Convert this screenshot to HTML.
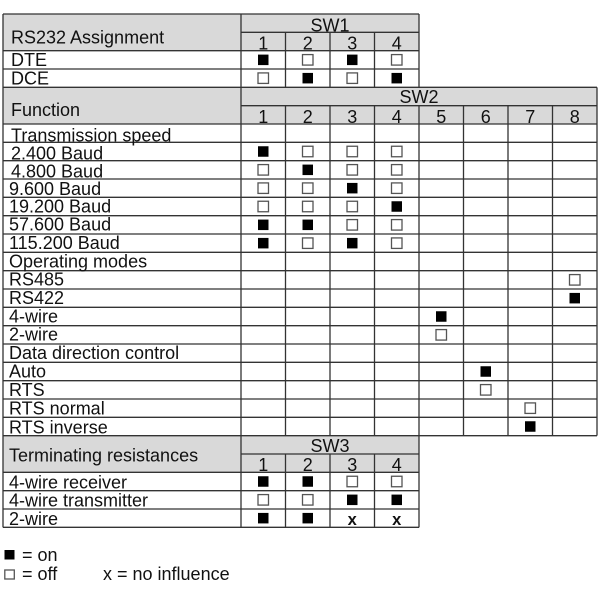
<!DOCTYPE html>
<html><head><meta charset="utf-8"><style>
html,body{margin:0;padding:0;background:#fff;}
svg{display:block;}
text{font-family:"Liberation Sans",Arial,sans-serif;font-size:18px;fill:#111;}
.c{text-anchor:middle;}
.ln{stroke:#333;stroke-width:1.3;fill:none;}
.f{fill:#000;}
.e{fill:#fff;stroke:#555;stroke-width:1.3;}
</style></head><body>
<svg width="600" height="600" viewBox="0 0 600 600" xmlns="http://www.w3.org/2000/svg">
<!-- header fills -->
<rect x="3" y="14" width="416" height="36.67" fill="#d9d9d9"/>
<rect x="3" y="87.33" width="594" height="36.67" fill="#d9d9d9"/>
<rect x="3" y="435.67" width="416" height="36.67" fill="#d9d9d9"/>

<!-- horizontal lines -->
<g class="ln">
<line x1="3" y1="14" x2="419" y2="14"/>
<line x1="241" y1="32.33" x2="419" y2="32.33"/>
<line x1="3" y1="50.67" x2="419" y2="50.67"/>
<line x1="3" y1="69" x2="419" y2="69"/>
<line x1="3" y1="87.33" x2="597" y2="87.33"/>
<line x1="241" y1="105.67" x2="597" y2="105.67"/>
<line x1="3" y1="124" x2="597" y2="124"/>
<line x1="3" y1="142.33" x2="597" y2="142.33"/>
<line x1="3" y1="160.67" x2="597" y2="160.67"/>
<line x1="3" y1="179" x2="597" y2="179"/>
<line x1="3" y1="197.33" x2="597" y2="197.33"/>
<line x1="3" y1="215.67" x2="597" y2="215.67"/>
<line x1="3" y1="234" x2="597" y2="234"/>
<line x1="3" y1="252.33" x2="597" y2="252.33"/>
<line x1="3" y1="270.67" x2="597" y2="270.67"/>
<line x1="3" y1="289" x2="597" y2="289"/>
<line x1="3" y1="307.33" x2="597" y2="307.33"/>
<line x1="3" y1="325.67" x2="597" y2="325.67"/>
<line x1="3" y1="344" x2="597" y2="344"/>
<line x1="3" y1="362.33" x2="597" y2="362.33"/>
<line x1="3" y1="380.67" x2="597" y2="380.67"/>
<line x1="3" y1="399" x2="597" y2="399"/>
<line x1="3" y1="417.33" x2="597" y2="417.33"/>
<line x1="3" y1="435.67" x2="597" y2="435.67"/>
<line x1="241" y1="454" x2="419" y2="454"/>
<line x1="3" y1="472.33" x2="419" y2="472.33"/>
<line x1="3" y1="490.67" x2="419" y2="490.67"/>
<line x1="3" y1="509" x2="419" y2="509"/>
<line x1="3" y1="527.33" x2="419" y2="527.33"/>
<!-- verticals -->
<line x1="3" y1="14" x2="3" y2="527.33"/>
<line x1="241" y1="14" x2="241" y2="527.33"/>
<line x1="285.5" y1="32.33" x2="285.5" y2="87.33"/>
<line x1="330" y1="32.33" x2="330" y2="87.33"/>
<line x1="374.5" y1="32.33" x2="374.5" y2="87.33"/>
<line x1="419" y1="14" x2="419" y2="87.33"/>
<line x1="285.5" y1="105.67" x2="285.5" y2="435.67"/>
<line x1="330" y1="105.67" x2="330" y2="435.67"/>
<line x1="374.5" y1="105.67" x2="374.5" y2="435.67"/>
<line x1="419" y1="105.67" x2="419" y2="527.33"/>
<line x1="463.5" y1="105.67" x2="463.5" y2="435.67"/>
<line x1="508" y1="105.67" x2="508" y2="435.67"/>
<line x1="552.5" y1="105.67" x2="552.5" y2="435.67"/>
<line x1="597" y1="87.33" x2="597" y2="435.67"/>
<line x1="285.5" y1="454" x2="285.5" y2="527.33"/>
<line x1="330" y1="454" x2="330" y2="527.33"/>
<line x1="374.5" y1="454" x2="374.5" y2="527.33"/>
</g>

<!-- header texts -->
<text x="11" y="43.5">RS232 Assignment</text>
<text class="c" x="330" y="31.5">SW1</text>
<text class="c" x="263.25" y="49.5">1</text>
<text class="c" x="307.75" y="49.5">2</text>
<text class="c" x="352.25" y="49.5">3</text>
<text class="c" x="396.75" y="49.5">4</text>

<text x="11" y="116">Function</text>
<text class="c" x="419" y="103">SW2</text>
<text class="c" x="263.25" y="123">1</text>
<text class="c" x="307.75" y="123">2</text>
<text class="c" x="352.25" y="123">3</text>
<text class="c" x="396.75" y="123">4</text>
<text class="c" x="441.25" y="123">5</text>
<text class="c" x="485.75" y="123">6</text>
<text class="c" x="530.25" y="123">7</text>
<text class="c" x="574.75" y="123">8</text>

<text x="9" y="461.5">Terminating resistances</text>
<text class="c" x="330" y="452">SW3</text>
<text class="c" x="263.25" y="471">1</text>
<text class="c" x="307.75" y="471">2</text>
<text class="c" x="352.25" y="471">3</text>
<text class="c" x="396.75" y="471">4</text>

<!-- row labels -->
<text x="11" y="66">DTE</text>
<text x="11" y="84.3">DCE</text>
<text x="11" y="141.7">Transmission speed</text>
<text x="11" y="159.5">2.400 Baud</text>
<text x="11" y="177.7">4.800 Baud</text>
<text x="9" y="195">9.600 Baud</text>
<text x="9" y="212.7">19.200 Baud</text>
<text x="9" y="230.7">57.600 Baud</text>
<text x="9" y="249">115.200 Baud</text>
<text x="9" y="267.3">Operating modes</text>
<text x="9" y="285.7">RS485</text>
<text x="9" y="304">RS422</text>
<text x="9" y="322.3">4-wire</text>
<text x="9" y="340.7">2-wire</text>
<text x="9" y="359">Data direction control</text>
<text x="9" y="377.3">Auto</text>
<text x="9" y="396">RTS</text>
<text x="9" y="414.7">RTS normal</text>
<text x="9" y="433.3">RTS inverse</text>
<text x="9" y="488.3">4-wire receiver</text>
<text x="9" y="506.7">4-wire transmitter</text>
<text x="9" y="525">2-wire</text>

<!-- SW1 boxes -->
<rect class="f" x="258" y="54.6" width="10.5" height="10.5"/>
<rect class="e" x="302.5" y="54.58" width="10.5" height="10.5"/>
<rect class="f" x="347" y="54.6" width="10.5" height="10.5"/>
<rect class="e" x="391.5" y="54.58" width="10.5" height="10.5"/>

<rect class="e" x="258" y="72.92" width="10.5" height="10.5"/>
<rect class="f" x="302.5" y="72.92" width="10.5" height="10.5"/>
<rect class="e" x="347" y="72.92" width="10.5" height="10.5"/>
<rect class="f" x="391.5" y="72.92" width="10.5" height="10.5"/>

<!-- SW2 speed rows -->
<rect class="f" x="258" y="146.25" width="10.5" height="10.5"/>
<rect class="e" x="302.5" y="146.25" width="10.5" height="10.5"/>
<rect class="e" x="347" y="146.25" width="10.5" height="10.5"/>
<rect class="e" x="391.5" y="146.25" width="10.5" height="10.5"/>

<rect class="e" x="258" y="164.58" width="10.5" height="10.5"/>
<rect class="f" x="302.5" y="164.58" width="10.5" height="10.5"/>
<rect class="e" x="347" y="164.58" width="10.5" height="10.5"/>
<rect class="e" x="391.5" y="164.58" width="10.5" height="10.5"/>

<rect class="e" x="258" y="182.92" width="10.5" height="10.5"/>
<rect class="e" x="302.5" y="182.92" width="10.5" height="10.5"/>
<rect class="f" x="347" y="182.92" width="10.5" height="10.5"/>
<rect class="e" x="391.5" y="182.92" width="10.5" height="10.5"/>

<rect class="e" x="258" y="201.25" width="10.5" height="10.5"/>
<rect class="e" x="302.5" y="201.25" width="10.5" height="10.5"/>
<rect class="e" x="347" y="201.25" width="10.5" height="10.5"/>
<rect class="f" x="391.5" y="201.25" width="10.5" height="10.5"/>

<rect class="f" x="258" y="219.58" width="10.5" height="10.5"/>
<rect class="f" x="302.5" y="219.58" width="10.5" height="10.5"/>
<rect class="e" x="347" y="219.58" width="10.5" height="10.5"/>
<rect class="e" x="391.5" y="219.58" width="10.5" height="10.5"/>

<rect class="f" x="258" y="237.92" width="10.5" height="10.5"/>
<rect class="e" x="302.5" y="237.92" width="10.5" height="10.5"/>
<rect class="f" x="347" y="237.92" width="10.5" height="10.5"/>
<rect class="e" x="391.5" y="237.92" width="10.5" height="10.5"/>

<!-- operating modes -->
<rect class="e" x="569.5" y="274.58" width="10.5" height="10.5"/>
<rect class="f" x="569.5" y="292.92" width="10.5" height="10.5"/>
<rect class="f" x="436" y="311.25" width="10.5" height="10.5"/>
<rect class="e" x="436" y="329.58" width="10.5" height="10.5"/>
<!-- data direction -->
<rect class="f" x="480.5" y="366.25" width="10.5" height="10.5"/>
<rect class="e" x="480.5" y="384.58" width="10.5" height="10.5"/>
<rect class="e" x="525" y="402.92" width="10.5" height="10.5"/>
<rect class="f" x="525" y="421.25" width="10.5" height="10.5"/>

<!-- SW3 -->
<rect class="f" x="258" y="476.25" width="10.5" height="10.5"/>
<rect class="f" x="302.5" y="476.25" width="10.5" height="10.5"/>
<rect class="e" x="347" y="476.25" width="10.5" height="10.5"/>
<rect class="e" x="391.5" y="476.25" width="10.5" height="10.5"/>

<rect class="e" x="258" y="494.58" width="10.5" height="10.5"/>
<rect class="e" x="302.5" y="494.58" width="10.5" height="10.5"/>
<rect class="f" x="347" y="494.58" width="10.5" height="10.5"/>
<rect class="f" x="391.5" y="494.58" width="10.5" height="10.5"/>

<rect class="f" x="258" y="512.92" width="10.5" height="10.5"/>
<rect class="f" x="302.5" y="512.92" width="10.5" height="10.5"/>
<text class="c" x="352.25" y="525" style="font-weight:bold;font-size:16.5px">x</text>
<text class="c" x="396.75" y="525" style="font-weight:bold;font-size:16.5px">x</text>

<!-- legend -->
<rect class="f" x="4.5" y="550" width="10" height="9.5"/>
<text x="22" y="561">= on</text>
<rect class="e" x="4.8" y="570" width="9.5" height="9"/>
<text x="22" y="580">= off</text>
<text x="103" y="580">x = no influence</text>
</svg>
</body></html>
